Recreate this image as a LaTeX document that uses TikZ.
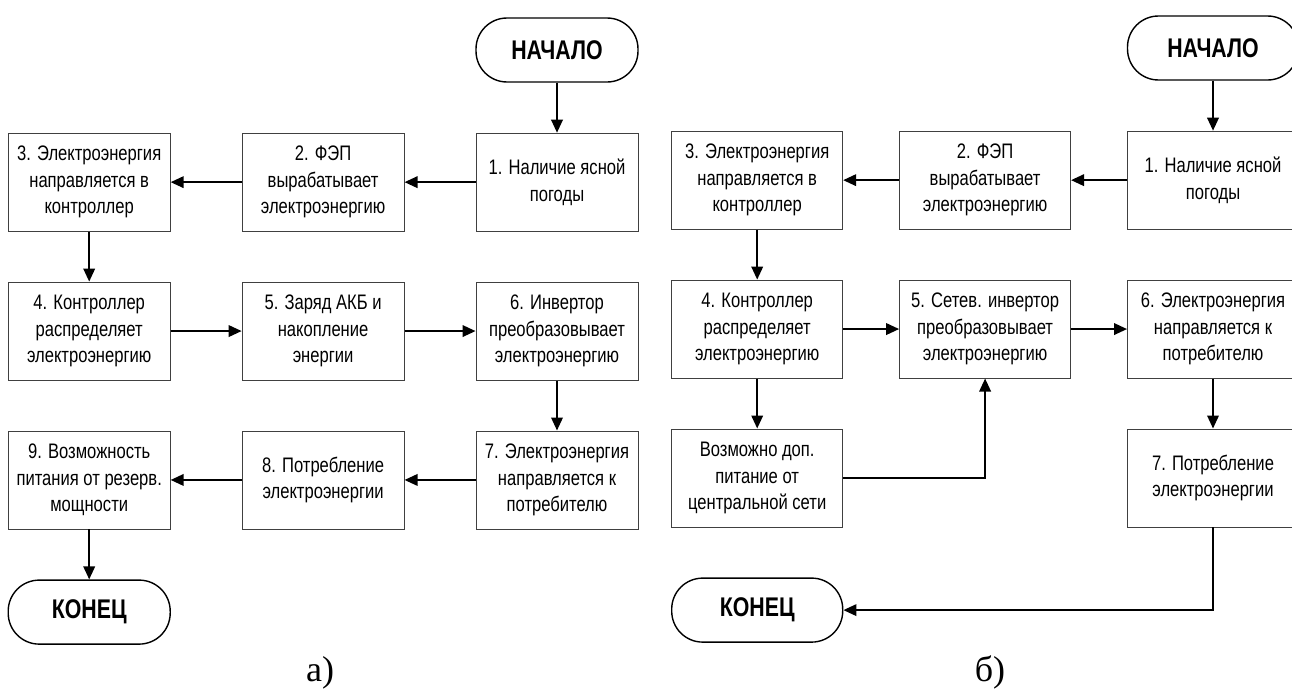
\documentclass[tikz,border=0pt]{standalone}
\usepackage{fontspec}
\setmainfont{Liberation Serif}
\newfontfamily\narrowfont{Liberation Sans}[FakeStretch=0.79]
\usepackage{tikz}
\usetikzlibrary{arrows.meta, positioning}

\begin{document}
\begin{tikzpicture}[
    x=1pt, y=-1pt,
    node distance=50pt and 71pt,
    stepbox/.style={
        rectangle,
        draw=black!75,
        line width=0.9pt,
        align=center,
        inner sep=2pt,
        minimum width=162pt,
        minimum height=98pt,
        font=\narrowfont\fontsize{21}{26.5}\selectfont
    },
    term/.style={
        rectangle,
        rounded corners=31pt,
        draw=black,
        line width=1.4pt,
        minimum width=162pt,
        minimum height=64pt,
        font=\narrowfont\bfseries\fontsize{27}{30}\selectfont
    },
    caption/.style={anchor=base, font=\fontsize{36}{40}\selectfont},
    arrow/.style={-{Triangle[length=13pt,width=11.5pt]}, line width=2pt}
]
\useasboundingbox (0,0) rectangle (1292,688);

% а) -- with battery
\node[term] (startA) at (557,50) {НАЧАЛО};
\node[stepbox, below=of startA] (a1) {1. Наличие ясной\\погоды};
\node[stepbox, left=of a1] (a2) {2. ФЭП\\вырабатывает\\электроэнергию};
\node[stepbox, left=of a2] (a3) {3. Электроэнергия\\направляется в\\контроллер};
\node[stepbox, below=of a3] (a4) {4. Контроллер\\распределяет\\электроэнергию};
\node[stepbox, right=of a4] (a5) {5. Заряд АКБ и\\накопление\\энергии};
\node[stepbox, right=of a5] (a6) {6. Инвертор\\преобразовывает\\электроэнергию};
\node[stepbox, below=of a6] (a7) {7. Электроэнергия\\направляется к\\потребителю};
\node[stepbox, left=of a7] (a8) {8. Потребление\\электроэнергии};
\node[stepbox, left=of a8] (a9) {9. Возможность\\питания от резерв.\\мощности};
\node[term, below=of a9] (endA) {КОНЕЦ};
\node[caption] (capA) at (320,681) {а)};

\draw[arrow] (startA) -- (a1);
\draw[arrow] (a1) -- (a2);
\draw[arrow] (a2) -- (a3);
\draw[arrow] (a3) -- (a4);
\draw[arrow] (a4) -- (a5);
\draw[arrow] (a5) -- (a6);
\draw[arrow] (a6) -- (a7);
\draw[arrow] (a7) -- (a8);
\draw[arrow] (a8) -- (a9);
\draw[arrow] (a9) -- (endA);

% б) -- grid-tied
\begin{scope}[node distance=50pt and 56pt,
    stepbox/.append style={minimum width=171pt},
    term/.append style={minimum width=171pt}]
\node[term] (startB) at (1213,48) {НАЧАЛО};
\node[stepbox, below=of startB] (b1) {1. Наличие ясной\\погоды};
\node[stepbox, left=of b1] (b2) {2. ФЭП\\вырабатывает\\электроэнергию};
\node[stepbox, left=of b2] (b3) {3. Электроэнергия\\направляется в\\контроллер};
\node[stepbox, below=of b3] (b4) {4. Контроллер\\распределяет\\электроэнергию};
\node[stepbox, right=of b4] (b5) {5. Сетев. инвертор\\преобразовывает\\электроэнергию};
\node[stepbox, right=of b5] (b6) {6. Электроэнергия\\направляется к\\потребителю};
\node[stepbox, below=of b4] (bgrid) {Возможно доп.\\питание от\\центральной сети};
\node[stepbox, below=of b6] (b7) {7. Потребление\\электроэнергии};
\node[term, below=of bgrid] (endB) {КОНЕЦ};
\end{scope}
\node[caption] (capB) at (990,681) {б)};

\draw[arrow] (startB) -- (b1);
\draw[arrow] (b1) -- (b2);
\draw[arrow] (b2) -- (b3);
\draw[arrow] (b3) -- (b4);
\draw[arrow] (b4) -- (b5);
\draw[arrow] (b5) -- (b6);
\draw[arrow] (b4) -- (bgrid);
\draw[arrow] (bgrid) -| (b5);
\draw[arrow] (b6) -- (b7);
\draw[arrow] (b7) |- (endB);

\end{tikzpicture}
\end{document}
